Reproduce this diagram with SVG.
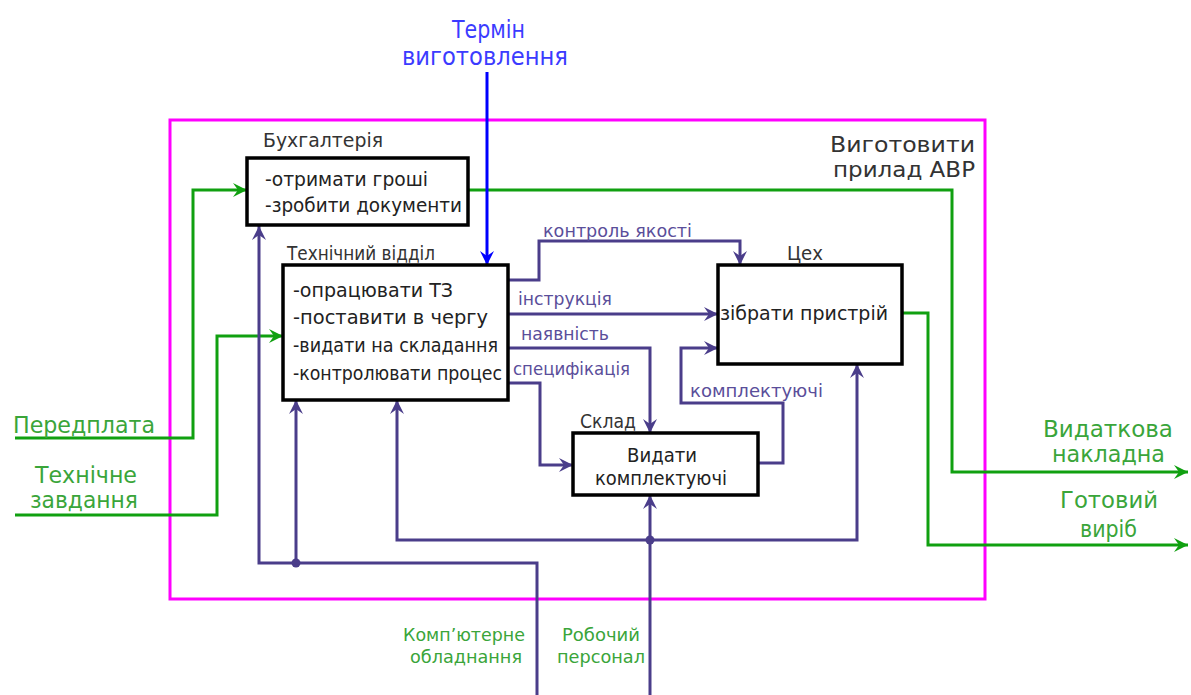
<svg xmlns="http://www.w3.org/2000/svg" width="1191" height="695" viewBox="0 0 1191 695">
<style>
text{font-family:"DejaVu Sans Condensed","DejaVu Sans","Liberation Sans",sans-serif}
.box{fill:#fff;stroke:#000;stroke-width:3.5}
.bt{font-size:19px;fill:#222}
.nl{font-size:19px;fill:#333}
.pl{font-size:17px;fill:#5a4e9a}
.gl{font-size:23px;fill:#3aa53a}
.gs{font-size:18px;fill:#3aa53a}
.bl{font-size:25px;fill:#3b3bff}
.ml{font-size:22px;fill:#333}
.pc{fill:none;stroke:#4a3d8a;stroke-width:3}
.gc{fill:none;stroke:#10a010;stroke-width:3}
.blc{fill:none;stroke:#0000ff;stroke-width:3}
.pa{marker-end:url(#ap)}
.ga{marker-end:url(#ag)}
</style>
<defs>
<marker id="ap" markerUnits="userSpaceOnUse" markerWidth="18" markerHeight="18" refX="15" refY="8" orient="auto">
<path d="M1,1 L15,8 L1,15 L6,8 z" fill="#4a3d8a"/>
</marker>
<marker id="ag" markerUnits="userSpaceOnUse" markerWidth="18" markerHeight="18" refX="15" refY="8" orient="auto">
<path d="M1,1 L15,8 L1,15 L6,8 z" fill="#10a010"/>
</marker>
<marker id="ab" markerUnits="userSpaceOnUse" markerWidth="18" markerHeight="18" refX="15" refY="8" orient="auto">
<path d="M1,1 L15,8 L1,15 L6,8 z" fill="#0000ff"/>
</marker>
</defs>
<rect width="1191" height="695" fill="#fff"/>
<g id="frame">
<rect x="170" y="120" width="815" height="479" fill="none" stroke="#ff00ff" stroke-width="3"/>
<text class="ml" x="830" y="152" textLength="145" lengthAdjust="spacingAndGlyphs">Виготовити</text>
<text class="ml" x="833" y="177" textLength="142" lengthAdjust="spacingAndGlyphs">прилад АВР</text>
</g>
<g id="connectors">
<path class="gc ga" d="M15,438 H193 V190 H247"/>
<path class="gc ga" d="M15,515 H217 V336 H283"/>
<path class="gc ga" d="M468,190 H952 V472 H1188"/>
<path class="gc ga" d="M902,313 H928 V545 H1188"/>
<path class="blc" marker-end="url(#ab)" d="M487,72 V265"/>
<path class="pc pa" d="M508,280 H539 V241 H740 V265"/>
<path class="pc pa" d="M508,314 H718"/>
<path class="pc pa" d="M508,348 H650 V433"/>
<path class="pc pa" d="M508,383 H540 V465 H573"/>
<path class="pc pa" d="M758,463 H783 V403 H681 V348 H718"/>
<path class="pc pa" d="M650,695 V495"/>
<path class="pc pa" d="M650,540 H397 V400"/>
<path class="pc pa" d="M650,540 H857 V364"/>
<path class="pc pa" d="M537,695 V563 H259 V226"/>
<path class="pc pa" d="M296,563 V400"/>
<circle cx="650" cy="540" r="4.5" fill="#4a3d8a"/>
<circle cx="296" cy="563" r="4.5" fill="#4a3d8a"/>
<text class="pl" x="543" y="237" textLength="149" lengthAdjust="spacingAndGlyphs">контроль якості</text>
<text class="pl" x="518" y="305" textLength="94" lengthAdjust="spacingAndGlyphs">інструкція</text>
<text class="pl" x="521" y="340" textLength="88" lengthAdjust="spacingAndGlyphs">наявність</text>
<text class="pl" x="513" y="375" textLength="117" lengthAdjust="spacingAndGlyphs">специфікація</text>
<text class="pl" x="690" y="397" textLength="133" lengthAdjust="spacingAndGlyphs">комплектуючі</text>
<text class="bl" x="452" y="38" textLength="73" lengthAdjust="spacingAndGlyphs">Термін</text>
<text class="bl" x="402" y="65" textLength="166" lengthAdjust="spacingAndGlyphs">виготовлення</text>
<text class="gl" x="13" y="433" textLength="142" lengthAdjust="spacingAndGlyphs">Передплата</text>
<text class="gl" x="35" y="483" textLength="102" lengthAdjust="spacingAndGlyphs">Технічне</text>
<text class="gl" x="30" y="508" textLength="108" lengthAdjust="spacingAndGlyphs">завдання</text>
<text class="gl" x="1043" y="437" textLength="130" lengthAdjust="spacingAndGlyphs">Видаткова</text>
<text class="gl" x="1052" y="462" textLength="113" lengthAdjust="spacingAndGlyphs">накладна</text>
<text class="gl" x="1060" y="508" textLength="98" lengthAdjust="spacingAndGlyphs">Готовий</text>
<text class="gl" x="1080" y="537" textLength="57" lengthAdjust="spacingAndGlyphs">виріб</text>
<text class="gs" x="403" y="641" textLength="122" lengthAdjust="spacingAndGlyphs">Комп’ютерне</text>
<text class="gs" x="410" y="663" textLength="112" lengthAdjust="spacingAndGlyphs">обладнання</text>
<text class="gs" x="562" y="641" textLength="78" lengthAdjust="spacingAndGlyphs">Робочий</text>
<text class="gs" x="557" y="663" textLength="88" lengthAdjust="spacingAndGlyphs">персонал</text>
</g>
<g id="buhgalteria">
<rect class="box" x="247" y="158" width="221" height="67"/>
<text class="nl" x="263" y="147" textLength="120" lengthAdjust="spacingAndGlyphs">Бухгалтерія</text>
<text class="bt" x="265" y="186" textLength="163" lengthAdjust="spacingAndGlyphs">-отримати гроші</text>
<text class="bt" x="265" y="212" textLength="197" lengthAdjust="spacingAndGlyphs">-зробити документи</text>
</g>
<g id="tech">
<rect class="box" x="283" y="265" width="225" height="135"/>
<text class="nl" x="287" y="260" textLength="148" lengthAdjust="spacingAndGlyphs">Технічний відділ</text>
<text class="bt" x="293" y="297" textLength="160" lengthAdjust="spacingAndGlyphs">-опрацювати ТЗ</text>
<text class="bt" x="293" y="324" textLength="195" lengthAdjust="spacingAndGlyphs">-поставити в чергу</text>
<text class="bt" x="293" y="352" textLength="205" lengthAdjust="spacingAndGlyphs">-видати на складання</text>
<text class="bt" x="293" y="380" textLength="209" lengthAdjust="spacingAndGlyphs">-контролювати процес</text>
</g>
<g id="tseh">
<rect class="box" x="718" y="265" width="184" height="99"/>
<text class="nl" x="787" y="260" textLength="36" lengthAdjust="spacingAndGlyphs">Цех</text>
<text class="bt" x="720" y="320" textLength="168" lengthAdjust="spacingAndGlyphs">зібрати пристрій</text>
</g>
<g id="sklad">
<rect class="box" x="573" y="433" width="185" height="62"/>
<text class="nl" x="580" y="428" textLength="56" lengthAdjust="spacingAndGlyphs">Склад</text>
<text class="bt" x="627" y="462" textLength="70" lengthAdjust="spacingAndGlyphs">Видати</text>
<text class="bt" x="595" y="485" textLength="132" lengthAdjust="spacingAndGlyphs">комплектуючі</text>
</g>
</svg>
